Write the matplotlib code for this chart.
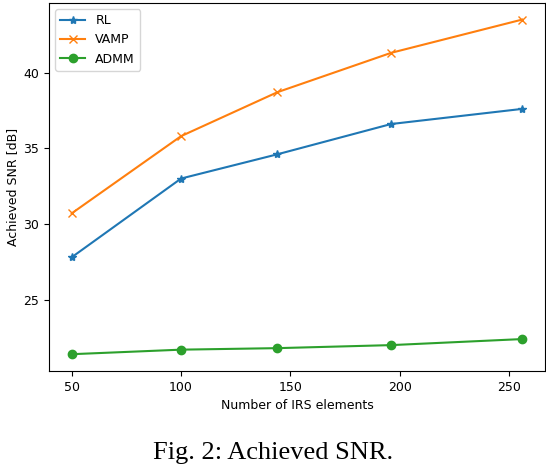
import matplotlib
matplotlib.use("Agg")
import matplotlib.pyplot as plt

# number of IRS elements
n_elements = [50, 100, 144, 196, 256]

snr_rl = [27.8, 33.0, 34.6, 36.6, 37.6]
snr_vamp = [30.7, 35.8, 38.7, 41.3, 43.5]
snr_admm = [21.4, 21.7, 21.8, 22.0, 22.4]

plt.rcParams['font.size'] = 9

fig = plt.figure(figsize=(5.46, 4.66), dpi=100)
ax = fig.add_axes([0.09, 0.204, 0.908, 0.79])

ax.plot(n_elements, snr_rl, marker='*', color='tab:blue', label='RL')
ax.plot(n_elements, snr_vamp, marker='x', color='tab:orange', label='VAMP')
ax.plot(n_elements, snr_admm, marker='o', color='tab:green', label='ADMM')

ax.set_xlabel('Number of IRS elements', labelpad=4)
ax.set_ylabel('Achieved SNR [dB]', labelpad=3)
ax.legend(loc='upper left')

fig.text(0.5, 0.004, 'Fig. 2: Achieved SNR.', ha='center', va='bottom',
         family='Liberation Serif', fontsize=19)

fig.savefig('out.png', dpi=100)
